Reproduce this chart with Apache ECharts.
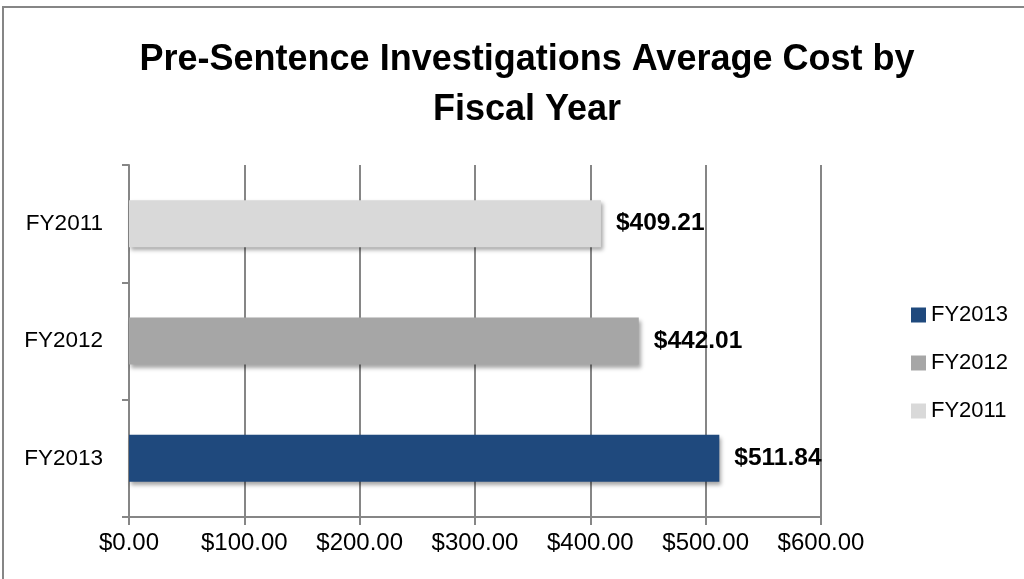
<!DOCTYPE html>
<html>
<head>
<meta charset="utf-8">
<script src="https://cdn.jsdelivr.net/npm/echarts@6/dist/echarts.min.js"></script>
<style>
  html, body { margin: 0; padding: 0; background: #fff; }
  #main { width: 1024px; height: 579px; }
</style>
</head>
<body>
<div id="main"></div>
<script>
const categories = ['FY2013', 'FY2012', 'FY2011'];
const fy2013 = [511.84, '-', '-'];
const fy2012 = ['-', 442.01, '-'];
const fy2011 = ['-', '-', 409.21];
const xTicks = [0, 100, 200, 300, 400, 500, 600];

const font = 'Liberation Sans, Arial, sans-serif';
const money = v => '$' + Number(v).toFixed(2);

function barSeries(name, data, color) {
  return {
    name: name,
    type: 'bar',
    stack: 'all',
    barWidth: 47,
    data: data,
    itemStyle: {
      color: color,
      shadowBlur: 4,
      shadowOffsetX: 2,
      shadowOffsetY: 3,
      shadowColor: 'rgba(0,0,0,0.35)'
    },
    label: {
      show: true,
      position: 'right',
      distance: 15,
      fontFamily: font,
      fontSize: 24.5,
      fontWeight: 'bold',
      color: '#000',
      formatter: p => money(p.value)
    }
  };
}

const myChart = echarts.init(document.getElementById('main'));
const option = {
  animation: false,
  backgroundColor: '#fff',
  title: {
    text: 'Pre-Sentence Investigations Average Cost by\nFiscal Year',
    left: 522,
    top: 30,
    textAlign: 'center',
    textStyle: {
      fontFamily: font,
      fontSize: 36,
      fontWeight: 'bold',
      color: '#000',
      lineHeight: 50
    }
  },
  graphic: [{
    type: 'rect',
    shape: { x: 3, y: 7, width: 1030, height: 600 },
    style: { fill: 'none', stroke: '#868686', lineWidth: 2 },
    silent: true
  }],
  legend: {
    orient: 'vertical',
    left: 906,
    top: 299,
    data: ['FY2013', 'FY2012', 'FY2011'],
    icon: 'rect',
    itemWidth: 15,
    itemHeight: 15,
    itemGap: 26,
    textStyle: { fontFamily: font, fontSize: 22, color: '#000' }
  },
  grid: { left: 129, right: 203, top: 165, bottom: 62 },
  xAxis: {
    type: 'value',
    min: xTicks[0],
    max: xTicks[xTicks.length - 1],
    interval: 100,
    axisLine: { show: true, lineStyle: { color: '#868686', width: 2 } },
    axisTick: { show: true, length: 8, lineStyle: { color: '#868686', width: 2 } },
    splitLine: { show: true, lineStyle: { color: '#868686', width: 2 } },
    axisLabel: {
      margin: 14,
      fontFamily: font,
      fontSize: 24,
      color: '#000',
      formatter: v => money(v)
    }
  },
  yAxis: {
    type: 'category',
    data: categories,
    axisLine: { show: true, lineStyle: { color: '#868686', width: 2 } },
    axisTick: { show: true, length: 7, lineStyle: { color: '#868686', width: 2 } },
    axisLabel: { margin: 26, fontFamily: font, fontSize: 22.5, color: '#000' }
  },
  series: [
    barSeries('FY2013', fy2013, '#1F497D'),
    barSeries('FY2012', fy2012, '#A6A6A6'),
    barSeries('FY2011', fy2011, '#D9D9D9')
  ]
};
myChart.setOption(option);
</script>
</body>
</html>
